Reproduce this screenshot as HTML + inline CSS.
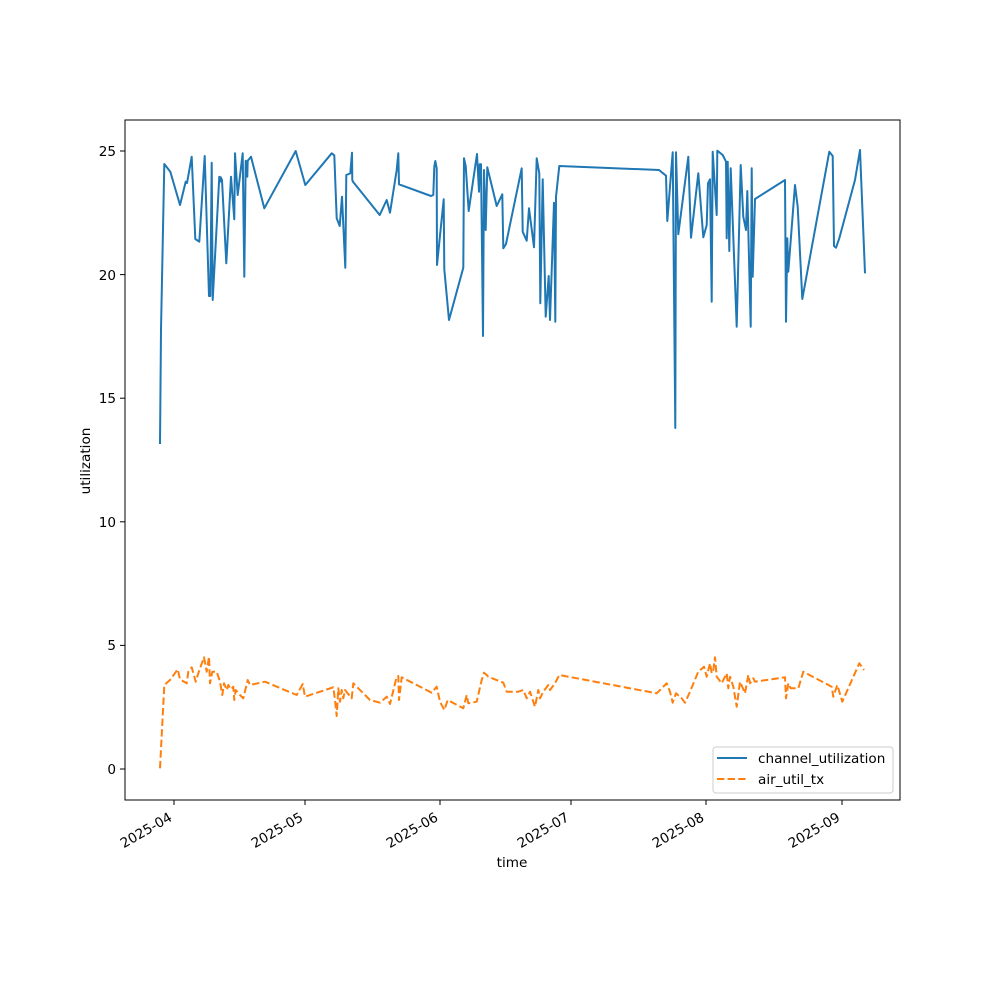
<!DOCTYPE html>
<html><head><meta charset="utf-8"><style>body{margin:0;background:#fff}svg{display:block}text{font-family:"DejaVu Sans","Liberation Sans",sans-serif;font-size:13.6px;fill:#000}</style></head><body>
<svg width="1000" height="1000" viewBox="0 0 1000 1000">
<rect x="125" y="120" width="775" height="680" fill="none" stroke="#000" stroke-width="1"/>
<g stroke="#000" stroke-width="1">
<line x1="120" y1="769" x2="125" y2="769"/><line x1="120" y1="645.4" x2="125" y2="645.4"/><line x1="120" y1="521.8" x2="125" y2="521.8"/><line x1="120" y1="398.2" x2="125" y2="398.2"/><line x1="120" y1="274.6" x2="125" y2="274.6"/><line x1="120" y1="151" x2="125" y2="151"/>
<line x1="174" y1="800" x2="174" y2="805"/><line x1="305" y1="800" x2="305" y2="805"/><line x1="440" y1="800" x2="440" y2="805"/><line x1="571" y1="800" x2="571" y2="805"/><line x1="706" y1="800" x2="706" y2="805"/><line x1="842" y1="800" x2="842" y2="805"/>
</g>
<g text-anchor="end">
<text x="116" y="774">0</text><text x="116" y="650">5</text><text x="116" y="527">10</text><text x="116" y="403">15</text><text x="116" y="280">20</text><text x="116" y="156">25</text>
</g>
<g text-anchor="end">
<text x="173" y="820" transform="rotate(-30 173 820)">2025-04</text>
<text x="304" y="820" transform="rotate(-30 304 820)">2025-05</text>
<text x="439" y="820" transform="rotate(-30 439 820)">2025-06</text>
<text x="570" y="820" transform="rotate(-30 570 820)">2025-07</text>
<text x="705" y="820" transform="rotate(-30 705 820)">2025-08</text>
<text x="841" y="820" transform="rotate(-30 841 820)">2025-09</text>
</g>
<text x="512" y="867" text-anchor="middle">time</text>
<text x="90" y="461" text-anchor="middle" transform="rotate(-90 90 461)">utilization</text>
<polyline fill="none" stroke="#1f77b4" stroke-width="2" stroke-linejoin="round" points="160,444 161,330 164.3,164 170.3,171.7 180,205 185.7,181.7 187,183 191.7,156.7 195.3,239 199.3,241.7 204.7,156 209,296 210.3,296 211.7,162.7 212.7,300 219.3,176.7 220,181.7 220.7,177.3 222,180 226.3,263.3 231,176.7 234.3,219.3 235,153.3 237.7,195 242.7,153.3 244.3,276.7 245.7,160.7 247.3,176.7 247.7,160.7 251,156.7 264.3,208.3 295.7,151 305.3,185 331.7,153.3 334.3,155.3 336.7,218.3 339.7,226 342,196.7 345.3,267.7 346.3,175 350.3,173.3 352,152.7 352.3,180 353,181.7 379.7,215 386.7,200 390,212.7 396.7,170 398.3,153.3 399,184.3 431,196 433.3,195 434.3,166.7 435.3,161 436.7,168.3 437,265 443.7,199.3 444.3,269.3 449,320 463.3,267.7 464,158.3 465.7,166 468.7,211 477,154 479,191.7 479.7,164.3 481,164.3 483,336 484,170 485.7,230 487.3,167.3 496.7,206 502.3,194.3 503.3,248.3 506,244 521.7,168.3 522.7,231.7 526.7,240.7 529,208.3 534,247.3 536.7,158.3 539.3,173.3 540.3,303.3 542.7,179.3 545.7,316.7 548.7,276 550,320 554,202.7 555.3,321.7 556,196.7 559.3,166 659,170 666,175.7 667.3,221 672.7,152.3 675.3,428 676,152.3 678.3,234.3 688.3,156.7 691,237.7 698.3,173.3 703.3,237.3 706.7,225 708,183.3 710,179.3 711.7,301.7 712.7,151.7 716.7,215 717.3,150.7 722.7,155 726,161.7 726.7,238.3 727.7,161.7 729.3,251 730.7,168.3 736.7,326.7 740.7,165 743.3,216.7 746,230 747.3,191 748.3,230 750.7,326.7 751.7,168.3 752.7,276.7 755,199 785,180 786,321.7 787.3,238.3 788.3,271.7 795,185 797.7,206.7 802.3,299 829.3,151.7 832.7,156 834,246 836,247.7 839.3,238.3 855,180 860,150 865,273.3"/>
<polyline fill="none" stroke="#ff7f0e" stroke-width="2" stroke-dasharray="7.4,3.2" stroke-linejoin="round" points="160,768.3 164.3,685 170,680 177.7,669.3 180,679.3 186.7,683.3 188.3,671.7 191.7,667.3 195.7,681.7 198.3,673.3 204,657.3 206.7,671.7 209,656.7 210,683.3 212.3,671.7 216.7,671.7 220,681.7 222.3,695 224,683.3 226.7,690 228.3,685 231,689.3 233.3,686.7 234.3,700 235.7,690 240,695 243.3,698.3 247.7,680 250,685 265,681.7 296.7,695 302.7,684 305,696.7 333.3,687.3 335,700 336.7,716 338.3,688.3 340,701.7 341.7,690 343.3,698.3 345,690 351.7,698.3 353.3,683.3 358.3,688.3 370,700 380,702.7 386.7,696.7 390,704 396.7,676.7 398.3,676 399,700 401.7,677.3 431.7,692.7 436.7,686.7 440,701.7 444.3,710 447.7,700 463.3,708.3 466.7,695 468.3,703.3 476.7,701.7 481.7,680 484,672.7 486.7,675 488.3,676.7 503.3,682.7 506.7,691.7 518.3,691.7 523.3,690 526.7,698.3 530,691.7 535,706.7 538.3,690 540,698.3 543.3,691.7 548.3,685 550,690 555,683.3 559.3,675 656.7,693.3 666.7,683.3 670,691.7 672.7,702.7 676,693.3 681.7,698.3 685,702.7 690,691.7 698.3,671.7 704,666.7 706.7,676.7 710,663.3 711.7,673.3 713.3,670 715,657.3 716.7,676.7 721.7,683.3 726.7,673.3 728.3,688.3 730,676.7 733.3,686.7 736.7,706.7 740,681.7 745,693.3 748.3,675 750,683.3 753.3,678.3 755,681.7 785,677.3 786,698.3 788.3,683.3 790.7,688.3 798.3,688.3 803.3,671.7 831.7,686.7 833.3,696.7 837.3,685 842.3,701.7 859.3,663.3 864,670"/>
<rect x="713" y="747" width="180" height="46" rx="3" fill="#fff" fill-opacity="0.8" stroke="#ccc" stroke-width="1"/>
<line x1="717" y1="758" x2="747" y2="758" stroke="#1f77b4" stroke-width="2"/>
<line x1="717" y1="779" x2="747" y2="779" stroke="#ff7f0e" stroke-width="2" stroke-dasharray="7.4,3.2"/>
<text x="758" y="763">channel_utilization</text>
<text x="758" y="784">air_util_tx</text>
</svg>
</body></html>
